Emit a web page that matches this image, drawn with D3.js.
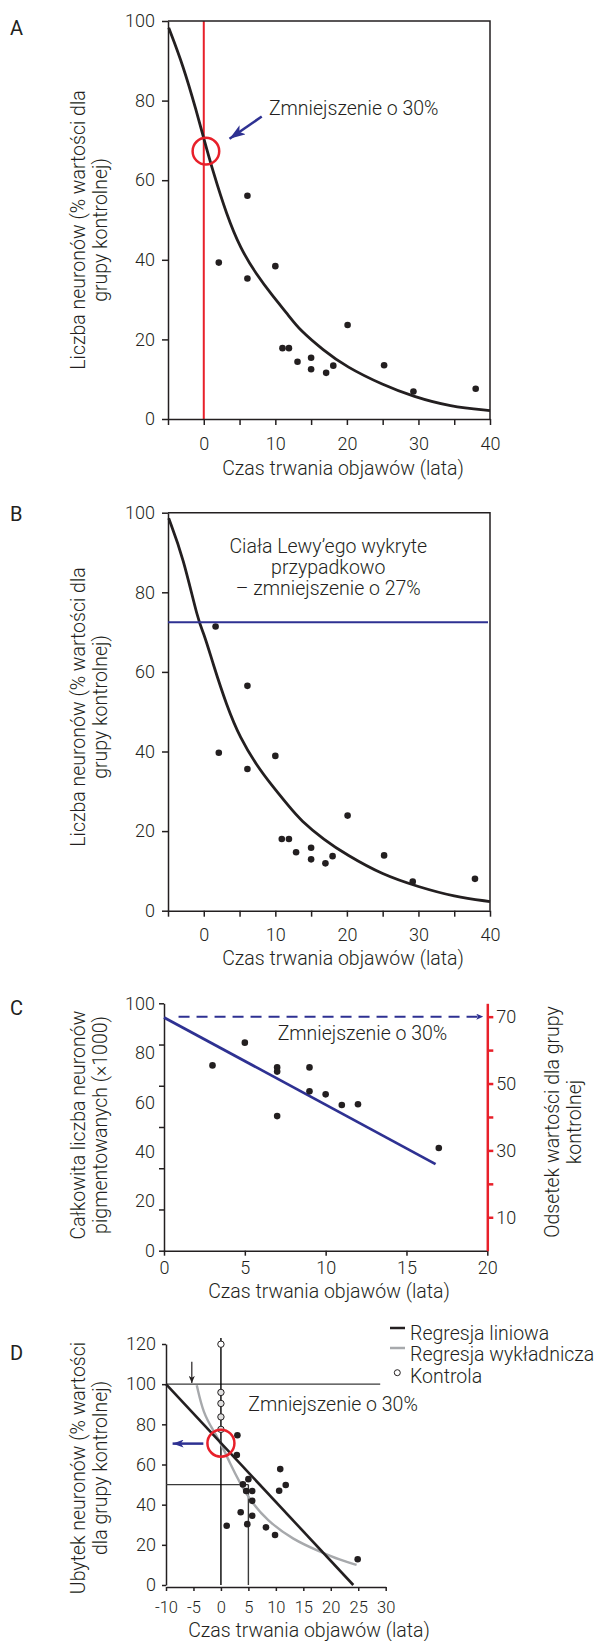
<!DOCTYPE html>
<html>
<head>
<meta charset="utf-8">
<script src="https://cdn.jsdelivr.net/npm/d3@7"></script>
<style>
  body { margin: 0; background: #fff; }
  svg text { font-family: Roboto, "Helvetica Neue", Arial, sans-serif; font-weight: 300; fill: #231f20; }
  svg text.panel-letter { font-weight: 400; }
</style>
</head>
<body>
<svg id="chart" width="598" height="1641"></svg>
<script>
// ---------- data ----------
// Panels A and B: symptom duration (years) vs neurons (% of controls)
const dotsA = [[2.1, 39.3], [6.1, 56.1], [6.1, 35.3], [10, 38.4], [11, 17.8], [11.9, 17.8],
  [13.1, 14.4], [15, 15.4], [15, 12.5], [17.1, 11.6], [18.1, 13.4], [20.1, 23.6],
  [25.2, 13.5], [29.3, 6.9], [38, 7.6]];
const curveA = [[-4.9, 98.3], [-2.9, 88.9], [-1, 77.2], [0, 70.5], [1.3, 62.1], [3.2, 51.3],
  [5.1, 42.9], [7.4, 36.2], [9.5, 31.2], [12, 25.7], [13.4, 22.4], [16.7, 17.3],
  [19.9, 13.1], [25.1, 8.5], [29.3, 5.6], [34.4, 3.1], [40, 2.1]];
const circleA = [0.3, 67.3];
const arrowA = [[8.1, 76], [3.6, 70.4]];
const labelA = [9.1, 78.1];

const dotsB = [[1.65, 71.4], [2.1, 39.7], [6.1, 56.5], [6.1, 35.6], [10, 38.9], [10.9, 18],
  [11.9, 18], [12.9, 14.7], [15, 15.8], [15, 12.9], [17, 11.9], [18, 13.7], [20.1, 23.9],
  [25.2, 13.9], [29.2, 7.3], [37.9, 8.0]];
const curveB = [[-4.9, 98.6], [-2.9, 89], [-0.75, 72.5], [0, 69.8], [1.3, 62], [3.2, 51.5],
  [5.1, 43.3], [7.4, 36.5], [9.5, 31.5], [12, 26], [13.5, 22.8], [16.8, 17.8], [20, 14],
  [25, 9], [30, 6], [35, 3.5], [40, 2.3]];
const lewyLevelB = 72.5;
const labelB = [17.4, 91.5];
const textB = ['Ciała Lewy\u2019ego wykryte', 'przypadkowo', '\u2013 zmniejszenie o 27%'];

// Panel C: total pigmented neurons (x1000)
const dotsC = [[3, 74.9], [5, 84.1], [7, 74.1], [7, 72.4], [7, 54.4], [9, 74.1], [9, 64.4],
  [10, 63.2], [11, 58.9], [12, 59.2], [17, 41.5]];
const regressionC = [[0, 94.3], [16.8, 35.0]];
const dashedC = [[0.9, 70], [19.75, 70]];   // level on the right (% of control) axis
const labelC = [7.03, 87.9];

// Panel D: neuron loss, linear vs exponential fit
const dotsD = [[3, 74.6], [2.9, 64.7], [4, 50.1], [5, 52.7], [4.6, 46.8], [5.7, 46.8],
  [5.7, 41.9], [3.6, 36.2], [5.7, 34.5], [1.05, 29.5], [4.8, 30.3], [8.2, 28.7],
  [9.85, 24.9], [10.8, 57.7], [10.6, 46.9], [11.8, 49.8], [24.9, 12.8]];
const controlsD = [[0, 119.9], [0, 95.9], [0, 90.4], [0, 83.7], [0, 77.5]];
const linearD = [[-10, 100], [24.1, 0]];
const expD = [[-4.4, 99.5], [-3.2, 85.4], [-1.4, 77.1], [0.15, 69.7], [1.66, 60.5], [3.5, 50.6],
  [5.3, 42.3], [8.3, 32.3], [13.2, 22.4], [18.05, 16.6], [21.7, 12.4], [24.7, 10]];
const guideLinesD = [[[-10, 100], [29, 100]], [[-10, 50], [5, 50]], [[5, 50], [5, 0]], [[0, 123], [0, 0]]];
const circleD = [0, 70.6];
const arrowD = [[-3.2, 70.4], [-8.8, 70.4]];
const downArrowD = [[-5.3, 111.2], [-5.3, 100.6]];
const labelD = [4.98, 90.1];

// tick labels
const ticksAB = d3.range(-5, 41, 5);
const ticksCx = [0, 5, 10, 15, 20];
const ticksCy = [0, 20, 40, 60, 80, 100];
const ticksCyMarks = d3.range(0, 7).map(i => i * 100 / 6);
const ticksCright = d3.range(10, 71, 10);
const ticksDx = d3.range(-10, 31, 5);
const ticksDy = d3.range(0, 121, 20);

const xTitle = 'Czas trwania objawów (lata)';
const reduction30 = 'Zmniejszenie o 30%';
const legendD = ['Regresja liniowa', 'Regresja wykładnicza', 'Kontrola'];

// ---------- drawing ----------
const INK = '#231f20', BLUE = '#2e3192', RED = '#e8202a', GREY = '#a7a9ac';
const FS = 19.5;
const svg = d3.select('#chart');

const defs = svg.append('defs');
function addMarker(id, color, len, wid) {
  defs.append('marker')
    .attr('id', id)
    .attr('markerUnits', 'userSpaceOnUse')
    .attr('viewBox', `0 0 ${len} ${wid}`)
    .attr('refX', len).attr('refY', wid / 2)
    .attr('markerWidth', len).attr('markerHeight', wid)
    .attr('orient', 'auto')
    .append('path')
    .attr('d', `M0,0 L${len},${wid / 2} L0,${wid} L${len * 0.25},${wid / 2} Z`)
    .attr('fill', color);
}
addMarker('arrow-blue', BLUE, 16, 11);
addMarker('arrow-blue-small', BLUE, 11, 8);
addMarker('arrow-dash', BLUE, 7, 6);
addMarker('arrow-black', INK, 7, 6);

function styleAxis(sel, fontSize, color = INK, width = 1.5) {
  sel.select('.domain').attr('stroke', color).attr('stroke-width', width);
  sel.selectAll('.tick line').attr('stroke', color).attr('stroke-width', width);
  sel.selectAll('.tick text').style('font-size', fontSize + 'px').attr('fill', INK);
  return sel;
}

function drawDots(g, data, x, y) {
  g.append('g').selectAll('circle').data(data).join('circle')
    .attr('cx', d => x(d[0])).attr('cy', d => y(d[1])).attr('r', 3.3).attr('fill', INK);
}

function drawLine(g, data, x, y, curve) {
  return g.append('path').datum(data)
    .attr('fill', 'none')
    .attr('d', d3.line().x(d => x(d[0])).y(d => y(d[1])).curve(curve || d3.curveLinear));
}

function yTitle(lines, cx, cy, gap) {
  const t = svg.append('text')
    .attr('transform', `translate(${cx},${cy}) rotate(-90)`)
    .attr('text-anchor', 'middle')
    .style('font-size', FS + 'px');
  lines.forEach((s, i) => t.append('tspan').attr('x', 0).attr('y', i * gap).attr('dy', '0.35em').text(s));
}

function panelLetter(s, y) {
  svg.append('text').attr('class', 'panel-letter')
    .attr('x', 10).attr('y', y).attr('dy', '0.35em')
    .style('font-size', '20px').text(s);
}

// ****************** Panels A and B ***************************
function framedPanel(top, bottom, dots, curve) {
  const x = d3.scaleLinear().domain([-5, 40]).range([168, 490]);
  const y = d3.scaleLinear().domain([0, 100]).range([bottom, top]);
  const g = svg.append('g');

  // frame top and right
  g.append('path')
    .attr('d', `M${x(-5)},${y(100)} H${x(40)} V${y(0)}`)
    .attr('fill', 'none').attr('stroke', INK).attr('stroke-width', 1.5);

  styleAxis(g.append('g').attr('transform', `translate(0,${y(0)})`)
    .call(d3.axisBottom(x).tickValues(ticksAB).tickFormat(d => d % 10 === 0 ? String(d) : '')
      .tickSize(6).tickPadding(12).tickSizeOuter(0)), 18);
  styleAxis(g.append('g').attr('transform', `translate(${x(-5)},0)`)
    .call(d3.axisLeft(y).tickValues(d3.range(0, 101, 20)).tickSize(6).tickPadding(7).tickSizeOuter(0)), 18);

  drawLine(g, curve, x, y, d3.curveBasis).attr('stroke', INK).attr('stroke-width', 2.8);
  drawDots(g, dots, x, y);
  return { g, x, y };
}

// Panel A
const pA = framedPanel(21, 419, dotsA, curveA);
pA.g.insert('line', 'path')
  .attr('x1', pA.x(0)).attr('x2', pA.x(0)).attr('y1', pA.y(100)).attr('y2', pA.y(0))
  .attr('stroke', RED).attr('stroke-width', 2);
pA.g.append('circle')
  .attr('cx', pA.x(circleA[0])).attr('cy', pA.y(circleA[1])).attr('r', 13.3)
  .attr('fill', 'none').attr('stroke', RED).attr('stroke-width', 2.5);
pA.g.append('line')
  .attr('x1', pA.x(arrowA[0][0])).attr('y1', pA.y(arrowA[0][1]))
  .attr('x2', pA.x(arrowA[1][0])).attr('y2', pA.y(arrowA[1][1]))
  .attr('stroke', BLUE).attr('stroke-width', 2.5).attr('marker-end', 'url(#arrow-blue)');
pA.g.append('text')
  .attr('x', pA.x(labelA[0])).attr('y', pA.y(labelA[1])).attr('dy', '0.35em')
  .style('font-size', FS + 'px').text(reduction30);
svg.append('text').attr('x', 343).attr('y', 468).attr('dy', '0.35em')
  .attr('text-anchor', 'middle').style('font-size', FS + 'px').text(xTitle);
yTitle(['Liczba neuronów (% wartości dla', 'grupy kontrolnej)'], 78, 230, 22);
panelLetter('A', 28);

// Panel B
const pB = framedPanel(512.7, 910.7, dotsB, curveB);
pB.g.append('line')
  .attr('x1', pB.x(-5)).attr('x2', pB.x(40) - 2).attr('y1', pB.y(lewyLevelB)).attr('y2', pB.y(lewyLevelB))
  .attr('stroke', BLUE).attr('stroke-width', 2);
const tB = pB.g.append('text').attr('text-anchor', 'middle').style('font-size', FS + 'px');
textB.forEach((s, i) => tB.append('tspan')
  .attr('x', pB.x(labelB[0])).attr('y', pB.y(labelB[1]) + i * 20.8).attr('dy', '0.35em').text(s));
svg.append('text').attr('x', 343).attr('y', 958).attr('dy', '0.35em')
  .attr('text-anchor', 'middle').style('font-size', FS + 'px').text(xTitle);
yTitle(['Liczba neuronów (% wartości dla', 'grupy kontrolnej)'], 78, 707, 22);
panelLetter('B', 514);

// ****************** Panel C ***************************
{
  const x = d3.scaleLinear().domain([0, 20]).range([164, 487.3]);
  const y = d3.scaleLinear().domain([0, 100]).range([1250.7, 1003.3]);
  const yR = d3.scaleLinear().domain([0, 74]).range([1250.7, 1003.3]);
  const g = svg.append('g');

  styleAxis(g.append('g').attr('transform', `translate(0,${y(0)})`)
    .call(d3.axisBottom(x).tickValues(ticksCx).tickSize(5).tickPadding(6).tickSizeOuter(0)), 18);
  // tick marks (six equal steps) and labels are not aligned in the original
  styleAxis(g.append('g').attr('transform', `translate(${x(0)},0)`)
    .call(d3.axisLeft(y).tickValues(ticksCyMarks).tickFormat('').tickSize(5).tickSizeOuter(0)), 18);
  const lbl = g.append('g').attr('transform', `translate(${x(0)},0)`)
    .call(d3.axisLeft(y).tickValues(ticksCy).tickSize(0).tickPadding(9));
  lbl.select('.domain').remove();
  styleAxis(lbl, 18);

  styleAxis(g.append('g').attr('transform', `translate(${x(20)},0)`)
    .call(d3.axisRight(yR).tickValues(ticksCright).tickFormat(d => d % 20 === 10 ? d : '')
      .tickSize(6).tickPadding(3).tickSizeOuter(0)), 18, RED, 2.5);

  g.append('line')
    .attr('x1', x(dashedC[0][0])).attr('x2', x(dashedC[1][0]))
    .attr('y1', yR(dashedC[0][1])).attr('y2', yR(dashedC[1][1]))
    .attr('stroke', BLUE).attr('stroke-width', 2).attr('stroke-dasharray', '11 7')
    .attr('marker-end', 'url(#arrow-dash)');
  drawLine(g, regressionC, x, y).attr('stroke', BLUE).attr('stroke-width', 2.8);
  drawDots(g, dotsC, x, y);
  g.append('text')
    .attr('x', x(labelC[0])).attr('y', y(labelC[1])).attr('dy', '0.35em')
    .style('font-size', FS + 'px').text(reduction30);

  svg.append('text').attr('x', 329).attr('y', 1291).attr('dy', '0.35em')
    .attr('text-anchor', 'middle').style('font-size', FS + 'px').text(xTitle);
  yTitle(['Całkowita liczba neuronów', 'pigmentowanych (×1000)'], 78, 1125, 22);
  yTitle(['Odsetek wartości dla grupy', 'kontrolnej'], 552, 1122, 22);
  panelLetter('C', 1008);
}

// ****************** Panel D ***************************
{
  const x = d3.scaleLinear().domain([-10, 30]).range([166, 385.7]);
  const y = d3.scaleLinear().domain([0, 120]).range([1585, 1344]);
  const g = svg.append('g');

  styleAxis(g.append('g').attr('transform', `translate(0,${y(0) + 2})`)
    .call(d3.axisBottom(x).tickValues(ticksDx).tickFormat(d => String(d))
      .tickSize(4).tickPadding(10).tickSizeOuter(0)), 16.5);
  styleAxis(g.append('g').attr('transform', `translate(${x(-10)},0)`)
    .call(d3.axisLeft(y).tickValues(ticksDy).tickSize(4).tickPadding(6).tickSizeOuter(0)), 18);

  guideLinesD.forEach((seg, i) => drawLine(g, seg, x, y)
    .attr('stroke', i === 3 ? '#000' : '#3a3a3a').attr('stroke-width', 1.4));

  drawLine(g, expD, x, y, d3.curveBasis).attr('stroke', GREY).attr('stroke-width', 2.4);
  drawLine(g, linearD, x, y).attr('stroke', INK).attr('stroke-width', 2.6);

  g.append('g').selectAll('circle').data(controlsD).join('circle')
    .attr('cx', d => x(d[0])).attr('cy', d => y(d[1])).attr('r', 3.2)
    .attr('fill', (d, i) => i === 0 ? '#fff' : '#e0e0e0')
    .attr('stroke', INK).attr('stroke-width', 1);
  drawDots(g, dotsD, x, y);

  g.append('circle')
    .attr('cx', x(circleD[0])).attr('cy', y(circleD[1])).attr('r', 13.5)
    .attr('fill', 'none').attr('stroke', RED).attr('stroke-width', 2.5);
  drawLine(g, arrowD, x, y).attr('stroke', BLUE).attr('stroke-width', 2.5)
    .attr('marker-end', 'url(#arrow-blue-small)');
  drawLine(g, downArrowD, x, y).attr('stroke', INK).attr('stroke-width', 1.2)
    .attr('marker-end', 'url(#arrow-black)');

  g.append('text')
    .attr('x', x(labelD[0])).attr('y', y(labelD[1])).attr('dy', '0.35em')
    .style('font-size', FS + 'px').text(reduction30);

  // legend
  const lg = svg.append('g').attr('transform', 'translate(390,1333)');
  lg.append('line').attr('x1', 0).attr('x2', 15).attr('y1', -5).attr('y2', -5)
    .attr('stroke', INK).attr('stroke-width', 2.5);
  lg.append('line').attr('x1', 0).attr('x2', 15).attr('y1', 15).attr('y2', 15)
    .attr('stroke', GREY).attr('stroke-width', 2.5);
  lg.append('circle').attr('cx', 7.3).attr('cy', 39.7).attr('r', 3)
    .attr('fill', '#fff').attr('stroke', INK).attr('stroke-width', 1);
  legendD.forEach((s, i) => lg.append('text')
    .attr('x', 20).attr('y', i * 21.5).attr('dy', '0.35em')
    .style('font-size', FS + 'px').text(s));

  svg.append('text').attr('x', 309).attr('y', 1630).attr('dy', '0.35em')
    .attr('text-anchor', 'middle').style('font-size', FS + 'px').text(xTitle);
  yTitle(['Ubytek neuronów (% wartości', 'dla grupy kontrolnej)'], 78, 1468, 22);
  panelLetter('D', 1353);
}
</script>
</body>
</html>
